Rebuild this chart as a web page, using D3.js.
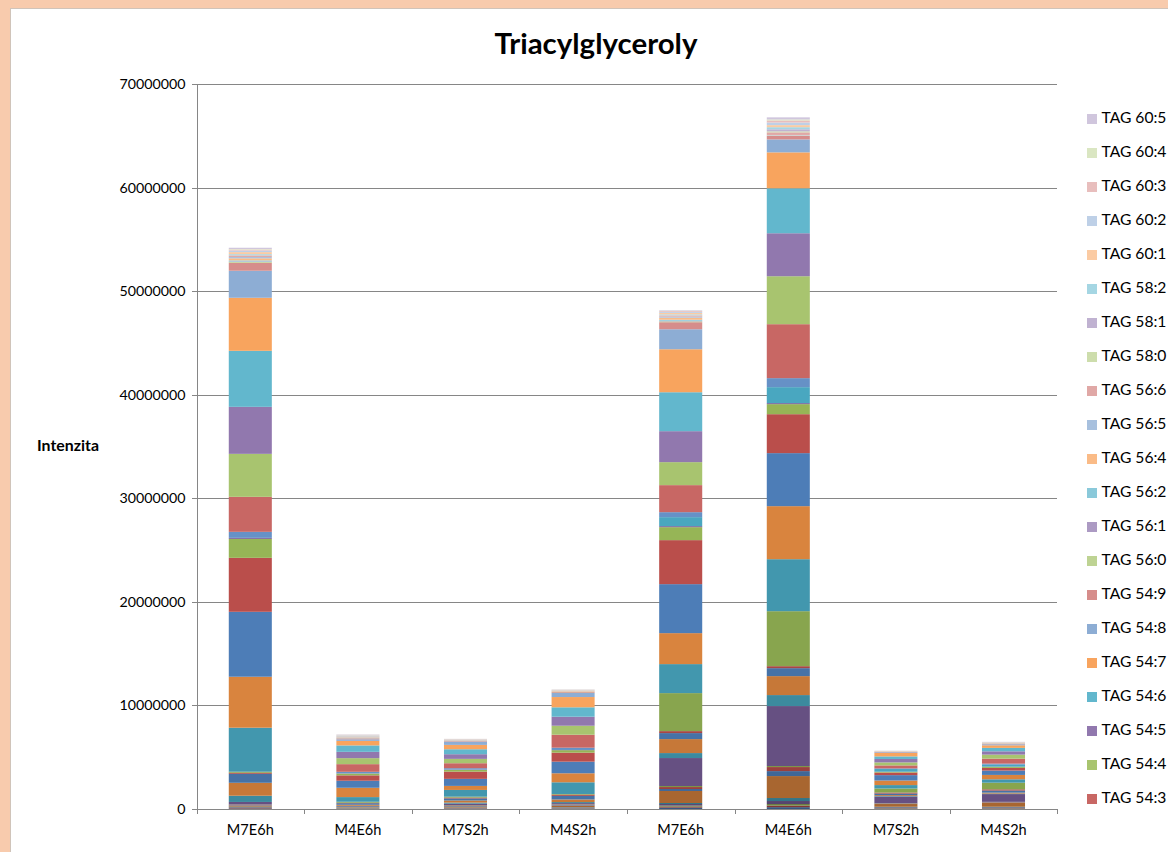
<!DOCTYPE html>
<html>
<head>
<meta charset="utf-8">
<script src="https://cdn.jsdelivr.net/npm/d3@7/dist/d3.min.js"></script>
<style>
  html, body { margin: 0; padding: 0; background: #F8CBAD; }
  svg { display: block; }
</style>
</head>
<body>
<svg id="chart" width="1168" height="852"></svg>
<script>
// ---------------- DATA ----------------
const UNIT = 1e6; // values below are in millions
const title = "Triacylglyceroly";
const yLabel = "Intenzita";
const categories = ["M7E6h", "M4E6h", "M7S2h", "M4S2h", "M7E6h", "M4E6h", "M7S2h", "M4S2h"];

// series, bottom of the stack first
const seriesNames = [
  "TAG 46:0", "TAG 46:1", "TAG 46:2", "TAG 46:3", "TAG 48:0", "TAG 48:1",
  "TAG 48:2", "TAG 48:3", "TAG 48:4", "TAG 48:5", "TAG 50:0", "TAG 50:1",
  "TAG 50:2", "TAG 50:3", "TAG 50:4", "TAG 50:5", "TAG 52:0", "TAG 52:1",
  "TAG 52:2", "TAG 52:3", "TAG 52:4", "TAG 52:5", "TAG 54:0", "TAG 54:1",
  "TAG 54:2", "TAG 54:3", "TAG 54:4", "TAG 54:5", "TAG 54:6", "TAG 54:7",
  "TAG 54:8", "TAG 54:9", "TAG 56:0", "TAG 56:1", "TAG 56:2", "TAG 56:4",
  "TAG 56:5", "TAG 56:6", "TAG 58:0", "TAG 58:1", "TAG 58:2", "TAG 60:1",
  "TAG 60:2", "TAG 60:3", "TAG 60:4", "TAG 60:5"
];
// number of legend entries that fit in the legend box (from the top series down)
const legendVisibleCount = 21;

// values per bar, same order as seriesNames
const bar1_M7E6h = [
  0.05, 0.05, 0.03, 0.05, 0.05, 0.10,
  0.04, 0.04, 0.02, 0.25, 0.60, 1.25,
  0.87, 0.10, 0.10, 0.00, 4.25, 4.92,
  6.27, 5.21, 1.83, 0.10, 0.00, 0.00,
  0.58, 3.38, 4.15, 4.54, 5.41, 5.12,
  2.61, 0.77, 0.08, 0.05, 0.10, 0.20,
  0.12, 0.10, 0.05, 0.05, 0.08, 0.20,
  0.15, 0.10, 0.05, 0.12
];
const bar2_M4E6h = [
  0.01, 0.02, 0.01, 0.02, 0.02, 0.05,
  0.02, 0.02, 0.02, 0.07, 0.05, 0.10,
  0.15, 0.05, 0.09, 0.00, 0.45, 0.90,
  0.68, 0.52, 0.17, 0.02, 0.00, 0.00,
  0.15, 0.74, 0.58, 0.61, 0.62, 0.44,
  0.15, 0.08, 0.02, 0.02, 0.03, 0.05,
  0.04, 0.03, 0.02, 0.02, 0.02, 0.04,
  0.04, 0.02, 0.01, 0.03
];
const bar3_M7S2h = [
  0.02, 0.03, 0.02, 0.04, 0.03, 0.10,
  0.05, 0.05, 0.03, 0.15, 0.10, 0.20,
  0.20, 0.08, 0.09, 0.00, 0.65, 0.39,
  0.68, 0.70, 0.17, 0.02, 0.00, 0.00,
  0.14, 0.48, 0.42, 0.45, 0.48, 0.42,
  0.32, 0.05, 0.01, 0.01, 0.02, 0.04,
  0.02, 0.02, 0.01, 0.01, 0.01, 0.02,
  0.02, 0.01, 0.005, 0.01
];
const bar4_M4S2h = [
  0.03, 0.03, 0.02, 0.05, 0.04, 0.15,
  0.05, 0.05, 0.03, 0.12, 0.10, 0.25,
  0.35, 0.12, 0.06, 0.00, 1.13, 0.87,
  1.12, 0.87, 0.24, 0.02, 0.00, 0.00,
  0.22, 1.25, 0.87, 0.87, 0.91, 0.99,
  0.39, 0.08, 0.02, 0.02, 0.02, 0.05,
  0.03, 0.02, 0.01, 0.01, 0.01, 0.03,
  0.02, 0.01, 0.005, 0.01
];
const bar5_M7E6h = [
  0.13, 0.10, 0.10, 0.15, 0.10, 1.16,
  0.19, 0.19, 0.10, 2.70, 0.48, 1.35,
  0.58, 0.19, 3.67, 0.00, 2.80, 2.99,
  4.73, 4.25, 1.25, 0.10, 0.87, 0.00,
  0.48, 2.61, 2.22, 2.99, 3.76, 4.15,
  1.93, 0.68, 0.08, 0.06, 0.10, 0.20,
  0.10, 0.08, 0.04, 0.04, 0.06, 0.14,
  0.10, 0.08, 0.03, 0.05
];
const bar6_M4E6h = [
  0.18, 0.15, 0.15, 0.29, 0.29, 2.12,
  0.48, 0.39, 0.10, 5.79, 1.06, 1.83,
  0.77, 0.19, 5.31, 0.00, 5.02, 5.12,
  5.12, 3.76, 0.97, 0.10, 1.54, 0.00,
  0.87, 5.21, 4.63, 4.15, 4.34, 3.47,
  1.25, 0.33, 0.01, 0.01, 0.02, 0.03,
  0.03, 0.25, 0.10, 0.20, 0.20, 0.20,
  0.25, 0.20, 0.10, 0.20
];
const bar7_M7S2h = [
  0.04, 0.04, 0.03, 0.06, 0.05, 0.26,
  0.03, 0.03, 0.02, 0.64, 0.05, 0.09,
  0.15, 0.10, 0.39, 0.00, 0.33, 0.44,
  0.52, 0.25, 0.07, 0.01, 0.26, 0.00,
  0.06, 0.29, 0.29, 0.33, 0.25, 0.33,
  0.07, 0.03, 0.005, 0.005, 0.01, 0.02,
  0.01, 0.01, 0.005, 0.005, 0.005, 0.015,
  0.01, 0.005, 0.005, 0.01
];
const bar8_M4S2h = [
  0.04, 0.04, 0.03, 0.06, 0.05, 0.39,
  0.03, 0.03, 0.02, 0.75, 0.05, 0.09,
  0.20, 0.12, 0.64, 0.00, 0.33, 0.42,
  0.42, 0.26, 0.10, 0.02, 0.19, 0.00,
  0.10, 0.48, 0.39, 0.32, 0.33, 0.25,
  0.10, 0.05, 0.01, 0.01, 0.02, 0.03,
  0.015, 0.015, 0.005, 0.005, 0.01, 0.02,
  0.015, 0.01, 0.005, 0.015
];
const barValues = [bar1_M7E6h, bar2_M4E6h, bar3_M7S2h, bar4_M4S2h,
                   bar5_M7E6h, bar6_M4E6h, bar7_M7S2h, bar8_M4S2h];
const yTicks = [0, 10000000, 20000000, 30000000, 40000000, 50000000, 60000000, 70000000];

// ---------------- STYLE ----------------
const accents = ["#4F81BD", "#C0504D", "#9BBB59", "#8064A2", "#4BACC6", "#F79646"];
// colour variant per block of six series (bottom block first): shade (<1) or tint (>0 mixed with white)
const variants = [
  {shade: 0.68}, {shade: 0.80}, {shade: 0.88}, {shade: 0.97},
  {tint: 0.13}, {tint: 0.35}, {tint: 0.50}, {tint: 0.63}
];
function seriesColor(i) {
  const c = d3.rgb(accents[i % 6]);
  const v = variants[Math.floor(i / 6)];
  if (v.shade !== undefined) return d3.rgb(c.r * v.shade, c.g * v.shade, c.b * v.shade).formatHex();
  const t = v.tint;
  return d3.rgb(c.r + (255 - c.r) * t, c.g + (255 - c.g) * t, c.b + (255 - c.b) * t).formatHex();
}

const FONT = "Lato, 'Open Sans', sans-serif";
const gridColor = "#868686";
const textColor = "#000000";

const W = 1168, H = 852;
const plot = {left: 196.5, right: 1057.3, top: 84, bottom: 809};

const svg = d3.select("#chart");

// chart area (white) over the peach page
svg.append("rect")
  .attr("x", 10.5).attr("y", 8.5)
  .attr("width", W + 20).attr("height", H + 20)
  .attr("fill", "#FFFFFF")
  .attr("stroke", "#D0C4BA").attr("stroke-width", 1);

// font-size fitting helper
function fitSize(str, weight, target) {
  const t = svg.append("text").attr("font-family", FONT).attr("font-weight", weight)
    .attr("font-size", 100).text(str);
  const w = t.node().getComputedTextLength();
  t.remove();
  return 100 * target / w;
}
const fsTick = fitSize("70000000", "normal", 66);
const fsCat = fitSize("M7E6h", "normal", 47);
const fsLegend = fitSize("TAG 60:5", "normal", 65);
const fsYLabel = fitSize(yLabel, "bold", 62);
const fsTitle = fitSize(title, "bold", 203);

// ---------------- SCALES ----------------
const x = d3.scaleBand()
  .domain(d3.range(categories.length))
  .range([plot.left, plot.right])
  .paddingInner(0.6)
  .paddingOuter(0.3);
const xEdges = d3.scaleLinear().domain([0, categories.length]).range([plot.left, plot.right]);
const y = d3.scaleLinear().domain([0, 70000000]).range([plot.bottom, plot.top]);

// ---------------- GRID ----------------
const grid = svg.append("g").attr("transform", `translate(${plot.left},0)`)
  .call(d3.axisLeft(y).tickValues(yTicks).tickSize(-(plot.right - plot.left)).tickFormat(""));
grid.select(".domain").remove();
grid.selectAll("line").attr("stroke", gridColor).attr("stroke-width", 1)
  .attr("shape-rendering", "crispEdges");

// ---------------- BARS ----------------
const table = categories.map((c, i) => {
  const row = {idx: i};
  seriesNames.forEach((s, j) => { row[s] = barValues[i][j] * UNIT; });
  return row;
});
const stacked = d3.stack().keys(seriesNames)(table);

svg.append("g").selectAll("g")
  .data(stacked)
  .join("g")
  .attr("fill", (d, i) => seriesColor(i))
  .selectAll("rect")
  .data(d => d)
  .join("rect")
  .attr("x", d => x(d.data.idx))
  .attr("width", x.bandwidth())
  .attr("y", d => y(d[1]))
  .attr("height", d => Math.max(0, y(d[0]) - y(d[1])));

// ---------------- AXES ----------------
const yAxis = svg.append("g").attr("transform", `translate(${plot.left},0)`)
  .call(d3.axisLeft(y).tickValues(yTicks).tickSize(5).tickPadding(6).tickFormat(d3.format("d")));
yAxis.selectAll("line").attr("stroke", gridColor).attr("shape-rendering", "crispEdges");
yAxis.select(".domain").attr("stroke", gridColor).attr("shape-rendering", "crispEdges");
yAxis.selectAll("text").attr("font-family", FONT).attr("font-size", fsTick).attr("fill", textColor);

const xTicks = svg.append("g").attr("transform", `translate(0,${plot.bottom})`)
  .call(d3.axisBottom(xEdges).tickValues(d3.range(categories.length + 1)).tickSize(5).tickFormat(""));
xTicks.selectAll("line").attr("stroke", gridColor).attr("shape-rendering", "crispEdges");
xTicks.select(".domain").attr("stroke", gridColor).attr("shape-rendering", "crispEdges");

const xAxis = svg.append("g").attr("transform", `translate(0,${plot.bottom})`)
  .call(d3.axisBottom(x).tickSize(0).tickPadding(16).tickFormat(i => categories[i]));
xAxis.select(".domain").remove();
xAxis.selectAll("text").attr("font-family", FONT).attr("font-size", fsCat).attr("fill", textColor);

// ---------------- TITLES ----------------
svg.append("text")
  .attr("x", 596).attr("y", 54)
  .attr("text-anchor", "middle")
  .attr("font-family", FONT).attr("font-weight", "bold").attr("font-size", fsTitle)
  .attr("fill", textColor)
  .text(title);

svg.append("text")
  .attr("x", 68).attr("y", (plot.top + plot.bottom) / 2)
  .attr("text-anchor", "middle").attr("dominant-baseline", "middle")
  .attr("font-family", FONT).attr("font-weight", "bold").attr("font-size", fsYLabel)
  .attr("fill", textColor)
  .text(yLabel);

// ---------------- LEGEND ----------------
const legendIdx = d3.range(seriesNames.length - 1, seriesNames.length - 1 - legendVisibleCount, -1);
const legendY = d3.scalePoint().domain(legendIdx).range([119, 799]);
const lg = svg.append("g").selectAll("g")
  .data(legendIdx)
  .join("g")
  .attr("transform", d => `translate(1087,${legendY(d)})`);
lg.append("rect")
  .attr("x", 0).attr("y", -5).attr("width", 10).attr("height", 10)
  .attr("fill", d => seriesColor(d));
lg.append("text")
  .attr("x", 14.5).attr("y", 0)
  .attr("dominant-baseline", "middle")
  .attr("font-family", FONT).attr("font-size", fsLegend).attr("fill", textColor)
  .text(d => seriesNames[d]);
</script>
</body>
</html>
